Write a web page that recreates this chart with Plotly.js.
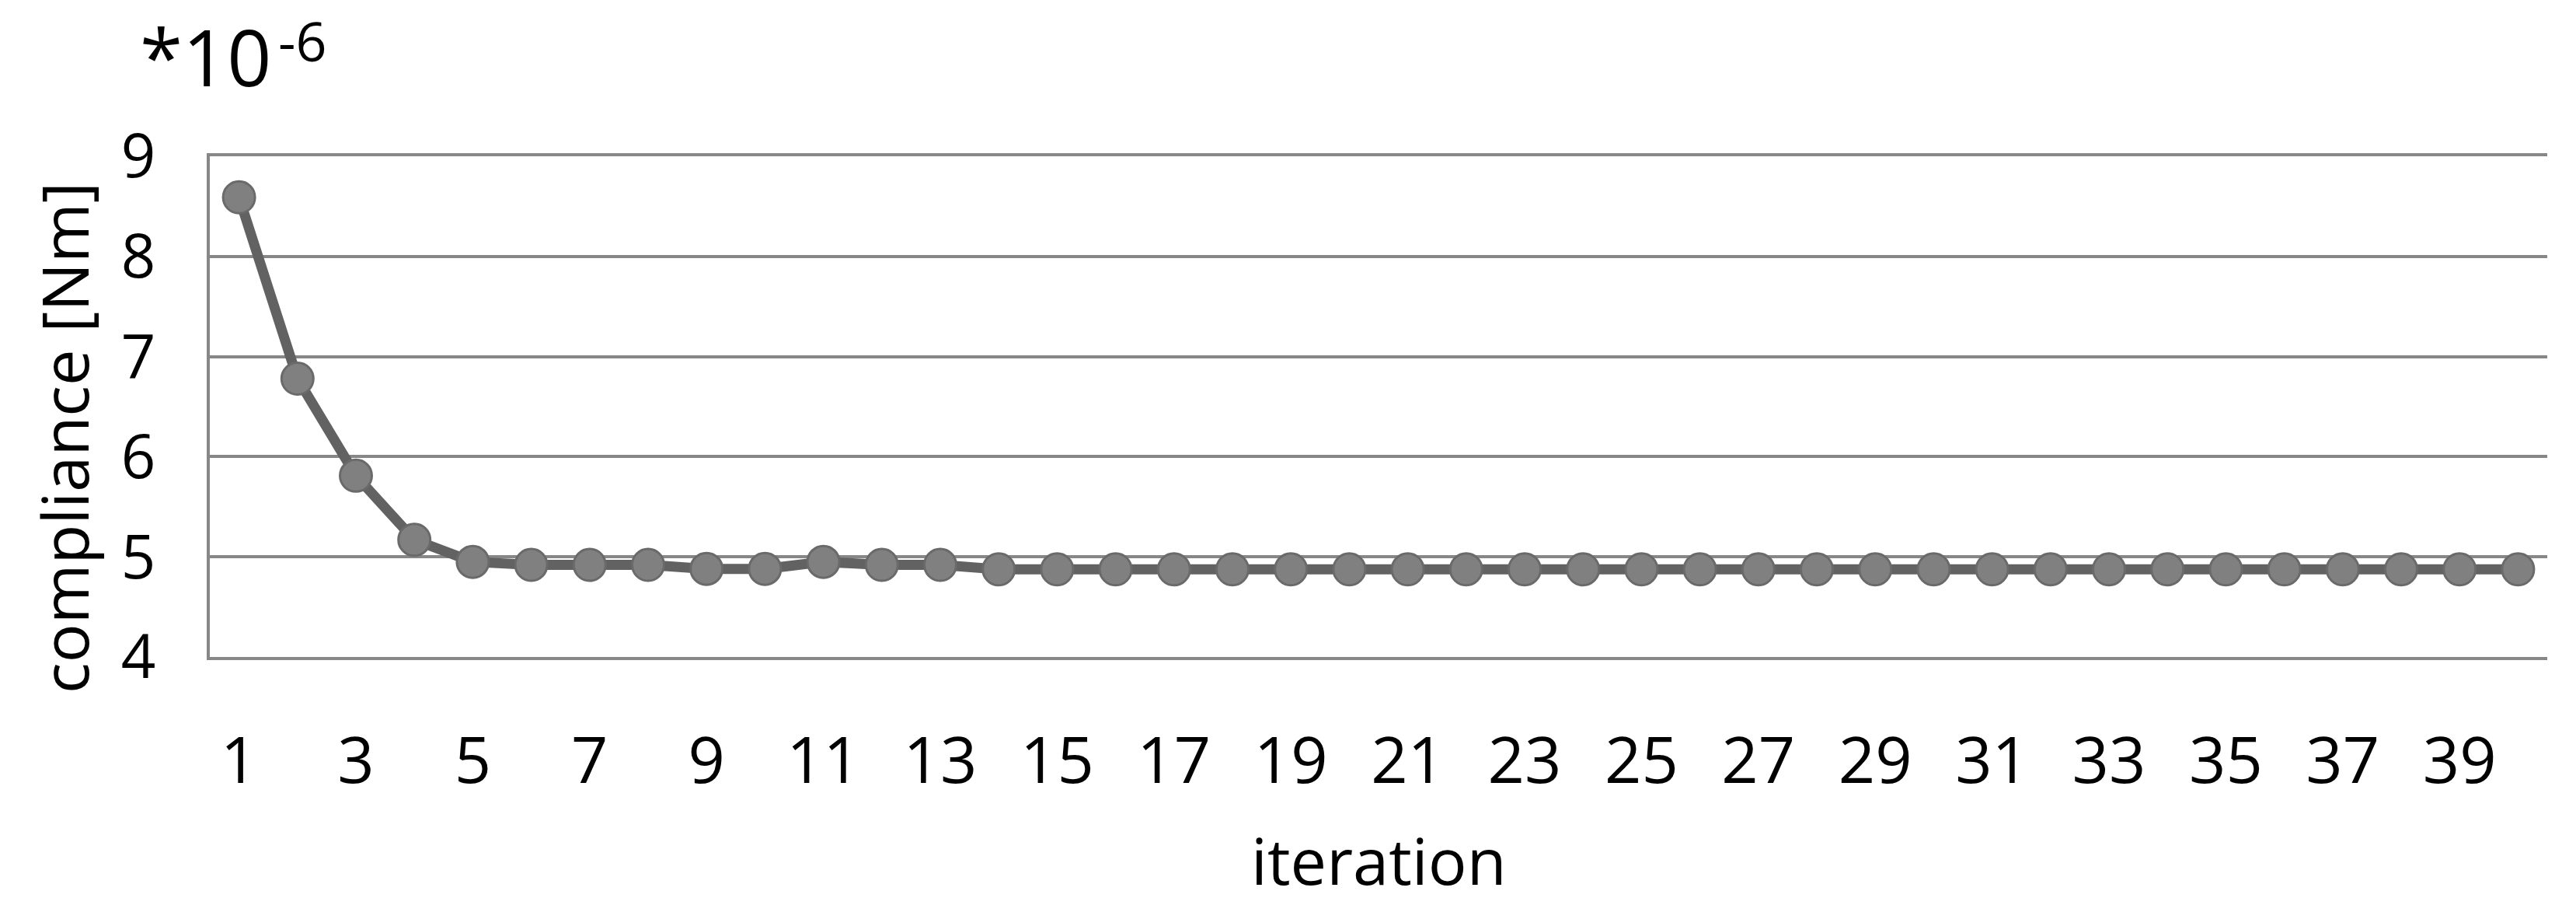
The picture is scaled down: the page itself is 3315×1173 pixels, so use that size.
<!DOCTYPE html>
<html>
<head>
<meta charset="utf-8">
<script src="https://cdn.plot.ly/plotly-3.0.1.min.js"></script>
<style>
  html, body { margin: 0; padding: 0; background: #fff; }
  #chart { width: 3315px; height: 1173px; }
</style>
</head>
<body>
<div id="chart"></div>
<script>
// iteration numbers and compliance values (in units of 1e-6 Nm)
var iterations = [];
for (var i = 1; i <= 40; i++) iterations.push(i);

var compliance = [
    8.59, 6.78, 5.81, 5.17, 4.95, 4.92, 4.92, 4.92, 4.88, 4.88,
    4.95, 4.92, 4.92, 4.875, 4.875, 4.875, 4.875, 4.875, 4.875, 4.875,
    4.875, 4.875, 4.875, 4.875, 4.875, 4.875, 4.875, 4.875, 4.875, 4.875,
    4.875, 4.875, 4.875, 4.875, 4.875, 4.875, 4.875, 4.875, 4.875, 4.875
];

var xTicks = [1, 3, 5, 7, 9, 11, 13, 15, 17, 19, 21, 23, 25, 27, 29, 31, 33, 35, 37, 39];
var yTicks = [4, 5, 6, 7, 8, 9];

var gridGrey = '#878787';
var fontName = 'Open Sans, sans-serif';

var data = [
    {
        x: iterations,
        y: compliance,
        type: 'scatter',
        mode: 'lines+markers',
        line: {color: '#626262', width: 13},
        marker: {size: 41, color: '#808080', line: {color: '#6a6a6a', width: 3}},
        cliponaxis: false,
        hoverinfo: 'skip'
    }
];

var layout = {
    width: 3315,
    height: 1173,
    showlegend: false,
    paper_bgcolor: '#fff',
    plot_bgcolor: '#fff',
    font: {family: fontName, color: '#000', size: 83},
    margin: {l: 270, r: 37, t: 201, b: 328},
    xaxis: {
        range: [0.5, 40.5],
        tickvals: xTicks,
        ticktext: xTicks.map(String),
        showgrid: false,
        zeroline: false,
        showline: true,
        mirror: true, // top line doubles as the gridline at 9
        linecolor: gridGrey,
        linewidth: 4,
        ticks: '',
        ticklabelstandoff: 58,
        tickfont: {family: fontName, size: 83, color: '#000'},
        fixedrange: true
    },
    yaxis: {
        range: [4, 9],
        tickvals: yTicks,
        showgrid: true,
        gridcolor: gridGrey,
        gridwidth: 4,
        zeroline: false,
        showline: true,
        linecolor: gridGrey,
        linewidth: 4,
        ticks: '',
        ticklabelstandoff: 50,
        tickfont: {family: fontName, size: 78, color: '#000'},
        fixedrange: true
    },
    annotations: [
        {
            text: 'iteration',
            xref: 'paper', yref: 'paper',
            x: 0.5, y: -0.405,
            xanchor: 'center', yanchor: 'middle',
            showarrow: false,
            font: {family: fontName, size: 83, color: '#000'}
        },
        {
            text: 'compliance [Nm]',
            xref: 'paper', yref: 'paper',
            x: -0.0625, y: 0.438,
            xanchor: 'center', yanchor: 'middle',
            textangle: -90,
            showarrow: false,
            font: {family: fontName, size: 83, color: '#000'}
        },
        // scale factor written as base + raised exponent, like the original
        {
            text: '*10',
            xref: 'paper', yref: 'paper',
            x: -0.0305, y: 1.2,
            xanchor: 'left', yanchor: 'middle',
            showarrow: false,
            font: {family: fontName, size: 100, color: '#000'}
        },
        {
            text: '-6',
            xref: 'paper', yref: 'paper',
            x: 0.0285, y: 1.232,
            xanchor: 'left', yanchor: 'middle',
            showarrow: false,
            font: {family: fontName, size: 70, color: '#000'}
        }
    ]
};

Plotly.newPlot('chart', data, layout, {displayModeBar: false, staticPlot: true});
</script>
</body>
</html>
